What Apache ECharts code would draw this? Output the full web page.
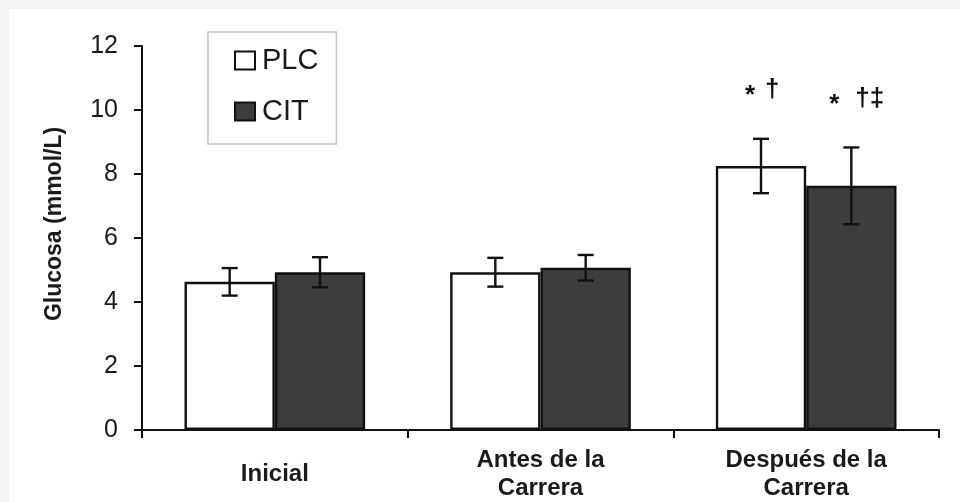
<!DOCTYPE html>
<html>
<head>
<meta charset="utf-8">
<script src="https://cdn.jsdelivr.net/npm/echarts@6/dist/echarts.min.js"></script>
<style>
  html, body { margin: 0; padding: 0; background: #f3f3f3; }
  #chart { position: absolute; left: 9px; top: 9px; width: 951px; height: 493px; background: #fff; }
</style>
</head>
<body>
<div id="chart"></div>
<script>
  // datos
  var categories = ['Inicial', 'Antes de la\nCarrera', 'Después de la\nCarrera'];
  var plc = [4.63, 4.93, 8.25];
  var cit = [4.93, 5.07, 7.63];
  var plcErr = [0.43, 0.45, 0.85];
  var citErr = [0.47, 0.40, 1.20];
  var plcMarks = ['', '', '* †'];
  var citMarks = ['', '', '* †‡'];
  var yTicks = [0, 2, 4, 6, 8, 10, 12];

  var FONT = 'Arial, "Liberation Sans", sans-serif';
  var GAP = 0.32;

  function errSeries(name, vals, errs, marks, side) {
    return {
      name: name + ' err',
      type: 'custom',
      z: 5,
      data: vals.map(function (v, i) { return [i, v, errs[i]]; }),
      renderItem: function (params, api) {
        var i = api.value(0), v = api.value(1), e = api.value(2);
        var mark = marks[i];
        var band = api.size([1, 0])[0];
        var bw = band * (1 - GAP) / 2;
        var x = api.coord([i, 0])[0] + side * bw / 2;
        var top = api.coord([i, v + e])[1];
        var bot = api.coord([i, v - e])[1];
        var cap = 8;
        var st = { stroke: '#111', lineWidth: 2.4 };
        var kids = [
          { type: 'line', shape: { x1: x, y1: top, x2: x, y2: bot }, style: st },
          { type: 'line', shape: { x1: x - cap, y1: top, x2: x + cap, y2: top }, style: st },
          { type: 'line', shape: { x1: x - cap, y1: bot, x2: x + cap, y2: bot }, style: st }
        ];
        if (mark) {
          var rest = mark.replace('*', '').trim();
          var shift = rest.length > 1 ? 6 : 0;
          kids.push({ type: 'text', style: { text: '*', x: x - 6 - shift, y: top - 30, align: 'right', verticalAlign: 'bottom', font: 'bold 26px ' + FONT, fill: '#111' } });
          kids.push({ type: 'text', style: { text: rest, x: x + 4, y: top - 36, align: 'left', verticalAlign: 'bottom', font: 'bold 26px ' + FONT, fill: '#111' } });
        }
        return { type: 'group', children: kids };
      }
    };
  }

  var chart = echarts.init(document.getElementById('chart'));
  chart.setOption({
    animation: false,
    textStyle: { fontFamily: FONT },
    grid: { left: 133, right: 21, top: 37, bottom: 72 },
    legend: {
      data: ['PLC', 'CIT'],
      orient: 'vertical',
      left: 199,
      top: 23,
      padding: [14, 18, 18, 26],
      itemGap: 22,
      itemWidth: 20,
      itemHeight: 18,
      borderColor: '#c4c4c4',
      borderWidth: 1.5,
      backgroundColor: '#fff',
      borderRadius: 0,
      icon: 'rect',
      textStyle: { fontSize: 29, color: '#1a1a1a', padding: [0, 0, 0, 2] }
    },
    xAxis: {
      type: 'category',
      data: categories,
      axisLine: { lineStyle: { color: '#111', width: 2 } },
      axisTick: { show: true, length: 8, lineStyle: { color: '#111', width: 2 } },
      axisLabel: { fontSize: 24, fontWeight: 'bold', color: '#1a1a1a', margin: 44, lineHeight: 28, verticalAlign: 'middle' }
    },
    yAxis: {
      type: 'value',
      min: 0,
      max: 12,
      interval: 2,
      name: 'Glucosa (mmol/L)',
      nameLocation: 'middle',
      nameGap: 76,
      nameTextStyle: { fontSize: 23, fontWeight: 'bold', color: '#1a1a1a', padding: [0, 0, 0, 28] },
      axisLine: { show: true, lineStyle: { color: '#111', width: 2 } },
      axisTick: { show: true, length: 8, lineStyle: { color: '#111', width: 2 } },
      axisLabel: { fontSize: 25, color: '#1a1a1a', margin: 24,
        formatter: function (v) { return yTicks.indexOf(v) >= 0 ? String(v) : ''; } },
      splitLine: { show: false }
    },
    series: [
      {
        name: 'PLC', type: 'bar', data: plc,
        barGap: '0%', barCategoryGap: '32%',
        itemStyle: { color: '#fff', borderColor: '#111', borderWidth: 2.4 }
      },
      {
        name: 'CIT', type: 'bar', data: cit,
        itemStyle: { color: '#3d3d3d', borderColor: '#111', borderWidth: 2.4 }
      },
      errSeries('PLC', plc, plcErr, plcMarks, -1),
      errSeries('CIT', cit, citErr, citMarks, 1)
    ]
  });
</script>
</body>
</html>
